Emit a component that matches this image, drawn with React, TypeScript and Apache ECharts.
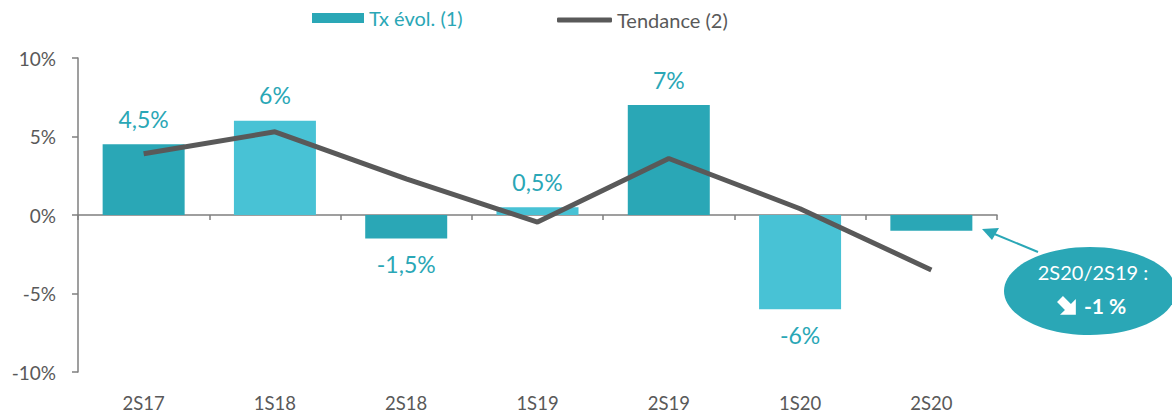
import React, { useEffect, useRef } from "react";
import * as echarts from "echarts";

const categories = ["2S17", "1S18", "2S18", "1S19", "2S19", "1S20", "2S20"];
const txEvol = [4.5, 6, -1.5, 0.5, 7, -6, -1];
const tendance = [3.9, 5.3, 2.3, -0.45, 3.6, 0.4, -3.5];
const showLabel = [true, true, true, true, true, true, false];
const yTicks = [-10, -5, 0, 5, 10];

const DARK = "#2AA7B6";
const LIGHT = "#48C2D5";
const GRAY = "#595959";
const FONT = "Lato, 'Open Sans', sans-serif";

// down-right arrow icon polygon (local coords)
const arrowIcon = [
  [2.12, -2.12], [7.78, 3.54], [11.31, 0], [11.31, 11.31],
  [0, 11.31], [3.54, 7.78], [-2.12, 2.12],
];

export default function App() {
  const ref = useRef<HTMLDivElement>(null);
  useEffect(() => {
    if (!ref.current) return;
    const chart = echarts.init(ref.current, null, { renderer: "svg" });
    const fmt = (v: number) => String(v).replace(".", ",") + "%";
    chart.setOption({
      animation: false,
      textStyle: { fontFamily: FONT },
      grid: { left: 78, right: 175, top: 58, bottom: 42 },
      legend: [
        {
          left: 307,
          top: 3,
          itemWidth: 52,
          itemHeight: 10,
          itemGap: 4,
          textStyle: { fontFamily: FONT, fontSize: 20, color: DARK },
          data: [{ name: "Tx évol. (1)", icon: "rect" }],
        },
        {
          left: 552,
          top: 5,
          itemWidth: 55,
          itemHeight: 5,
          textStyle: { fontFamily: FONT, fontSize: 20, color: GRAY },
          data: [{ name: "Tendance (2)", icon: "roundRect" }],
        },
      ],
      xAxis: [
        {
          type: "category",
          data: categories,
          axisLine: { onZero: true, lineStyle: { color: "#7f7f7f", width: 1.5 } },
          axisTick: { show: true, length: 5, lineStyle: { color: "#7f7f7f", width: 1.5 } },
          axisLabel: { show: false },
        },
        {
          type: "category",
          data: categories,
          position: "bottom",
          axisLine: { show: false, onZero: false },
          axisTick: { show: false },
          axisLabel: { color: GRAY, fontSize: 18.5, margin: 21, fontFamily: FONT },
        },
      ],
      yAxis: {
        type: "value",
        min: yTicks[0],
        max: yTicks[yTicks.length - 1],
        interval: 5,
        splitLine: { show: false },
        axisLine: { show: true, lineStyle: { color: "#7f7f7f", width: 1.5 } },
        axisTick: { show: true, length: 6, lineStyle: { color: "#7f7f7f", width: 1.5 } },
        axisLabel: {
          color: GRAY,
          fontSize: 19,
          margin: 22,
          fontFamily: FONT,
          formatter: (v: number) => v + "%",
        },
      },
      series: [
        {
          name: "Tx évol. (1)",
          type: "bar",
          barWidth: 82,
          itemStyle: { color: DARK },
          data: txEvol.map((v, i) => ({
            value: v,
            itemStyle: { color: i % 2 === 0 ? DARK : LIGHT },
            label: {
              show: showLabel[i],
              position: v >= 0 ? "top" : "bottom",
              distance: 14,
              color: DARK,
              fontSize: 23,
              fontFamily: FONT,
              formatter: () => fmt(v),
            },
          })),
        },
        {
          name: "Tendance (2)",
          type: "line",
          data: tendance,
          symbol: "none",
          z: 5,
          itemStyle: { color: GRAY },
          lineStyle: { color: GRAY, width: 5 },
        },
      ],
      graphic: [
        {
          type: "line",
          shape: { x1: 1038, y1: 252, x2: 992, y2: 233 },
          style: { stroke: DARK, lineWidth: 2 },
        },
        {
          type: "polygon",
          shape: { points: [[982, 229], [999, 228], [992, 240]] },
          style: { fill: DARK },
        },
        {
          type: "ellipse",
          shape: { cx: 1090, cy: 291, rx: 86, ry: 44 },
          style: { fill: DARK },
        },
        {
          type: "text",
          x: 1093,
          y: 272,
          style: {
            text: "2S20/2S19 :",
            fill: "#fff",
            font: `20px ${FONT}`,
            align: "center",
            verticalAlign: "middle",
          },
        },
        {
          type: "polygon",
          x: 1060,
          y: 299,
          scaleX: 1.4,
          scaleY: 1.4,
          shape: { points: arrowIcon },
          style: { fill: "#fff" },
        },
        {
          type: "text",
          x: 1084,
          y: 305,
          style: {
            text: "-1 %",
            fill: "#fff",
            font: `bold 21px ${FONT}`,
            align: "left",
            verticalAlign: "middle",
          },
        },
      ],
    });
    return () => chart.dispose();
  }, []);
  return (
    <div
      ref={ref}
      style={{ position: "absolute", left: 0, top: 0, width: 1172, height: 414 }}
    />
  );
}
